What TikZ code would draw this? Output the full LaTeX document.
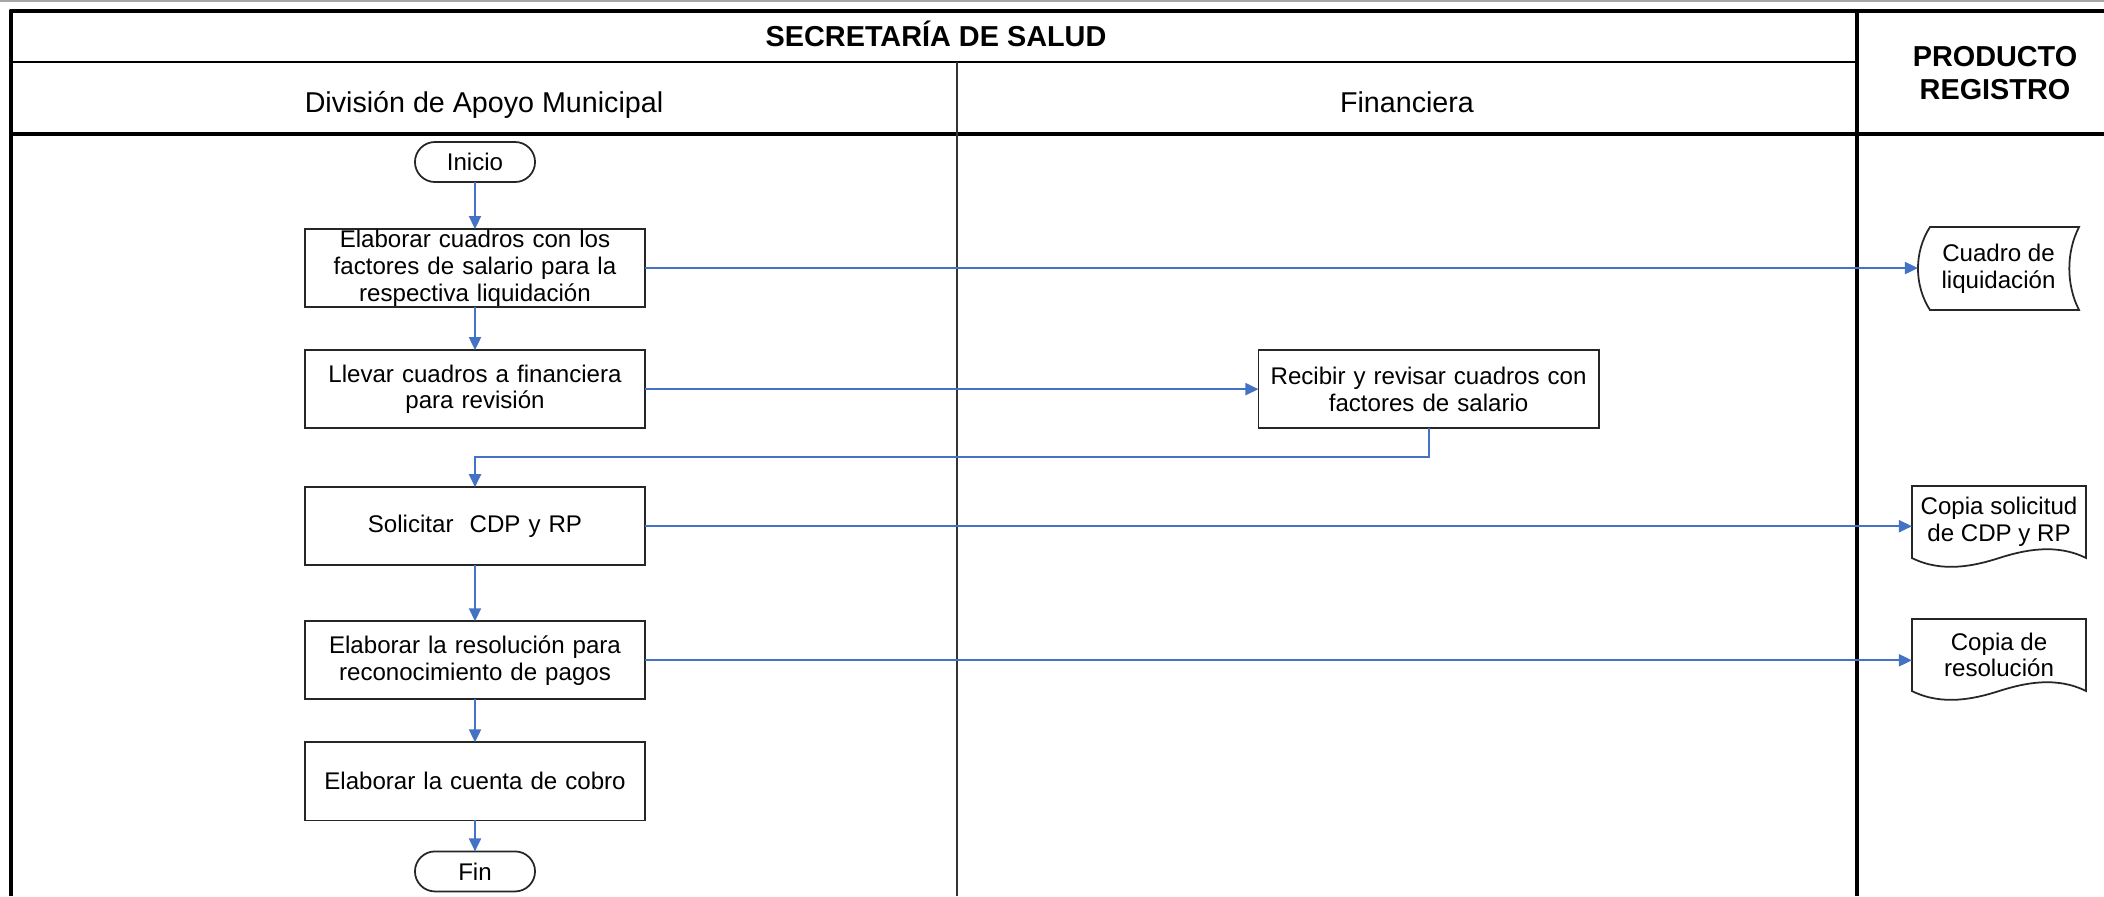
\documentclass[tikz,border=0pt]{standalone}
\usepackage{fontspec}
\setmainfont{Liberation Sans}
\usetikzlibrary{shapes,arrows.meta,calc,positioning}
\definecolor{flowblue}{RGB}{68,114,196}

\begin{document}
\begin{tikzpicture}[x=0.01cm,y=-0.01cm,
        proc/.style={draw=black!85, line width=0.5pt, minimum width=3.4cm, minimum height=0.78cm,
            text width=3.3cm, inner xsep=0.05cm, inner ysep=0pt, outer sep=0pt, align=center,
            font=\fontsize{6.85}{7.6}\selectfont},
        term/.style={draw=black!85, line width=0.5pt, rounded corners=0.2cm, minimum width=1.2cm,
            minimum height=0.4cm, inner sep=0pt, outer sep=0pt, font=\fontsize{6.85}{7.6}\selectfont},
        docnode/.style={minimum width=1.74cm, minimum height=0.72cm, inner sep=0pt, outer sep=0pt,
            align=center, font=\fontsize{6.85}{7.6}\selectfont},
        outline/.style={draw=black!85, line width=0.5pt},
        flow/.style={draw=flowblue, line width=0.55pt, -{Triangle[length=0.13cm,width=0.12cm]}},
        lanehead/.style={anchor=base, font=\fontsize{8.15}{9.4}\selectfont},
        boldhead/.style={align=center, font=\fontsize{8.2}{9.4}\selectfont\bfseries},
        frameline/.style={line width=1.4pt, line join=round}]

        \useasboundingbox (0,0) rectangle (2104,896);

        \draw[gray!70, line width=0.6pt] (0,1) -- (2104,1);
        \draw[frameline] (2104,11) -- (11,11) -- (11,896);
        \draw[frameline] (11,134) -- (2104,134);
        \draw[frameline] (1857,11) -- (1857,896);
        \draw[line width=0.7pt] (11,62) -- (1857,62);
        \draw[black!80, line width=0.55pt] (957,62) -- (957,896);

        \node[boldhead, anchor=base] (secretaria) at (936,46) {SECRETARÍA DE SALUD};
        \node[lanehead] (division) at (484,112) {División de Apoyo Municipal};
        \node[lanehead] (financiera) at (1407,112) {Financiera};
        \node[boldhead] (producto) at (1995,73) {PRODUCTO\\REGISTRO};

        \node[term] (inicio) at (475,162) {Inicio};
        \node[proc, below = 0.47cm of inicio] (cuadros) {Elaborar cuadros con los\\factores de salario para la\\respectiva liquidación};
        \node[proc, below = 0.43cm of cuadros] (llevar) {Llevar cuadros a financiera\\para revisión};
        \node[proc, right = 6.13cm of llevar] (recibir) {Recibir y revisar cuadros con\\factores de salario};
        \node[proc, below = 0.59cm of llevar] (solicitar) {Solicitar\ \ CDP y RP};
        \node[proc, below = 0.56cm of solicitar] (resolucion) {Elaborar la resolución para\\reconocimiento de pagos};
        \node[proc, below = 0.43cm of resolucion] (cuenta) {Elaborar la cuenta de cobro};
        \node[term, below = 0.31cm of cuenta] (fin) {Fin};

        \node[docnode, minimum width=1.61cm, minimum height=0.83cm] (liquidacion) at (1998.5,268.5) {Cuadro de\\liquidación};
        \node[docnode] (copiasol) at (1999,522) {Copia solicitud\\de CDP y RP};
        \node[docnode] (copiares) at (1999,655) {Copia de\\resolución};

        \draw[outline] ($(liquidacion.north west)+(12,0)$) -- (liquidacion.north east)
            .. controls +(-13,25) and +(-13,-25) .. (liquidacion.south east)
            -- ($(liquidacion.south west)+(12,0)$)
            .. controls +(-16,-25) and +(-16,25) .. ($(liquidacion.north west)+(12,0)$) -- cycle;
        \foreach \d in {copiasol,copiares}
            \draw[outline] (\d.north west) -- (\d.north east) -- (\d.south east)
                .. controls +(-30,-15) and +(25,-8) .. (\d.south)
                .. controls +(-25,8) and +(30,15) .. (\d.south west) -- cycle;

        \coordinate (retorno) at ($(recibir.south)+(0,29)$);

        \draw[flow] (inicio) -- (cuadros);
        \draw[flow] (cuadros) -- (llevar);
        \draw[flow] (cuadros.east) -- (cuadros.east -| liquidacion.west);
        \draw[flow] (llevar) -- (recibir);
        \draw[flow] (recibir.south) -- (retorno) -| (solicitar.north);
        \draw[flow] (solicitar.east) -- (solicitar.east -| copiasol.west);
        \draw[flow] (solicitar) -- (resolucion);
        \draw[flow] (resolucion.east) -- (resolucion.east -| copiares.west);
        \draw[flow] (resolucion) -- (cuenta);
        \draw[flow] (cuenta) -- (fin);

\end{tikzpicture}
\end{document}
